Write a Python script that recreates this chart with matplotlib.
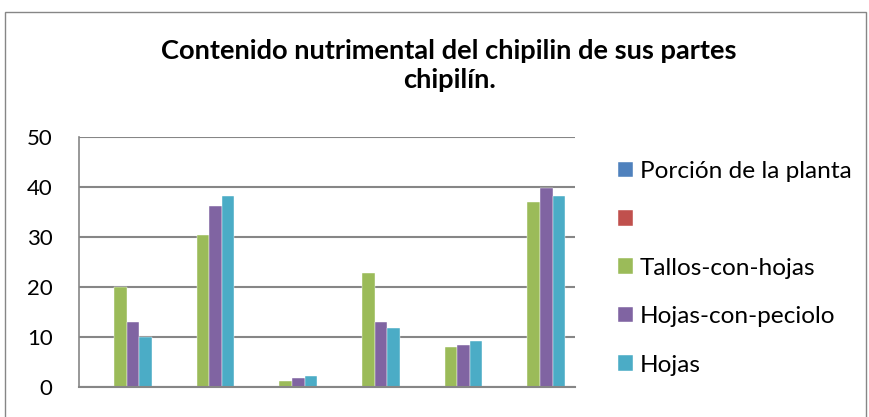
import numpy as np
import matplotlib
matplotlib.use("Agg")
import matplotlib.pyplot as plt
from matplotlib.patches import Rectangle

categories = ["1", "2", "3", "4", "5", "6"]
series_names = ["Porción de la planta", "", "Tallos-con-hojas", "Hojas-con-peciolo", "Hojas"]
porcion = [0, 0, 0, 0, 0, 0]
vacia = [0, 0, 0, 0, 0, 0]
tallos = [20.0, 30.5, 1.3, 22.8, 8.0, 37.1]
peciolo = [13.0, 36.2, 1.9, 13.0, 8.4, 39.9]
hojas = [10.0, 38.2, 2.2, 11.8, 9.2, 38.2]
colors = ["#4F81BD", "#C0504D", "#9BBB59", "#8064A2", "#4BACC6"]

plt.rcParams['font.family'] = ['Lato', 'DejaVu Sans']

W, H = 869, 417
fig = plt.figure(figsize=(W / 100, H / 100), dpi=100)

# chart border
fig.patches.append(Rectangle((5 / W, -0.05), 861 / W, 1.05 - 12 / H,
                             transform=fig.transFigure, fill=False,
                             edgecolor="#868686", lw=1.0))

ax = fig.add_axes([79 / W, 1 - 387 / H, (575 - 79) / W, (387 - 137) / H])

x = np.arange(len(categories))
bw = 0.152
data = [porcion, vacia, tallos, peciolo, hojas]
for i, (name, vals) in enumerate(zip(series_names, data)):
    ax.bar(x + (i - 2) * bw, vals, bw, color=colors[i], label=name if name else " ",
           edgecolor="white", linewidth=0.3)

ax.set_xlim(-0.5, len(categories) - 0.5)
ax.set_ylim(0, 50)
ax.set_yticks(range(0, 51, 10))
ax.set_xticks([])
ax.tick_params(axis="y", length=0, labelsize=16, pad=19)
ax.yaxis.grid(True, color="#868686", lw=1.5)
ax.set_axisbelow(True)
for s in ["top", "right"]:
    ax.spines[s].set_visible(False)
ax.spines["left"].set_color("#868686")
ax.spines["bottom"].set_color("#868686")
ax.spines["left"].set_linewidth(1.2)
ax.spines["bottom"].set_linewidth(1.5)

fig.text(449 / W, 1 - 59 / H, "Contenido nutrimental del chipilin de sus partes",
         ha="center", va="baseline", fontsize=19.6, fontweight="bold")
fig.text(449 / W, 1 - 88 / H, "chipilín.",
         ha="center", va="baseline", fontsize=19.6, fontweight="bold")

fig.legend(loc="upper left", bbox_to_anchor=(618 / W, 1 - 161 / H), frameon=False,
           fontsize=17.6, handlelength=0.6, handleheight=0.6, handletextpad=0.3,
           labelspacing=1.12, borderaxespad=0, borderpad=0)

fig.savefig("out.png", dpi=100)
